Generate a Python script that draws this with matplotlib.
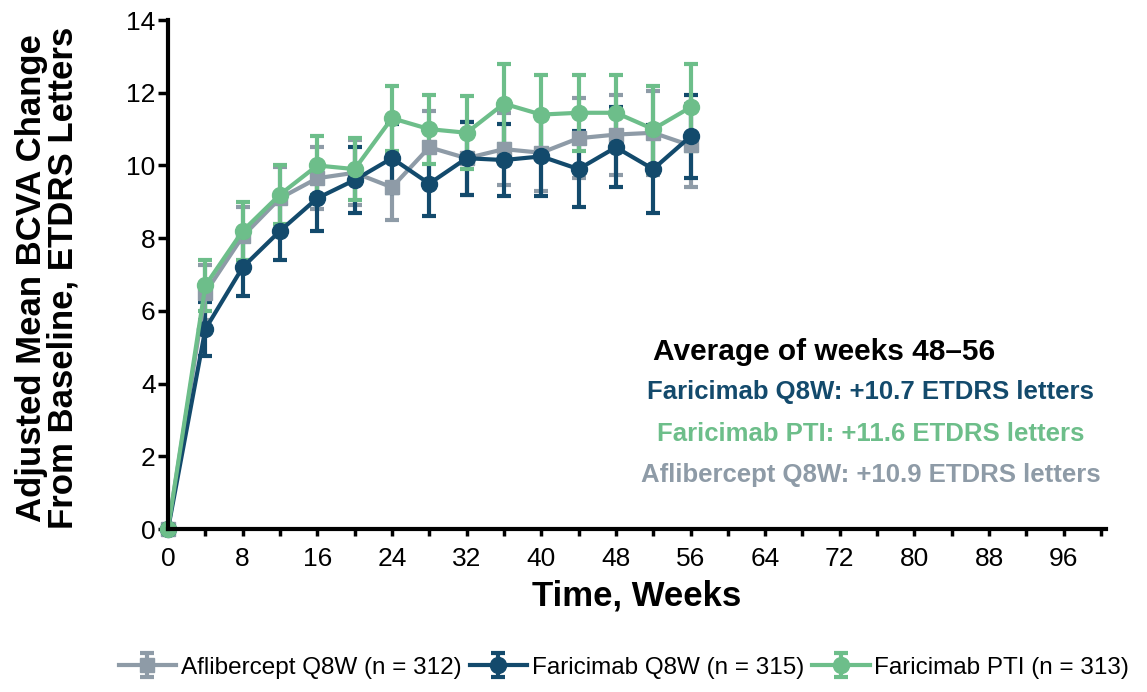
import matplotlib

matplotlib.use("Agg")
import matplotlib.pyplot as plt

# data
weeks = [0, 4, 8, 12, 16, 20, 24, 28, 32, 36, 40, 44, 48, 52, 56]

aflibercept = [0, 6.5, 8.05, 9.1, 9.65, 9.8, 9.4, 10.5, 10.2, 10.45, 10.35, 10.75, 10.85, 10.9, 10.55]
aflibercept_err = [0, 0.75, 0.8, 0.85, 0.85, 0.9, 0.9, 1.0, 1.0, 1.0, 1.05, 1.1, 1.1, 1.15, 1.15]

faricimab_q8w = [0, 5.5, 7.2, 8.2, 9.1, 9.6, 10.2, 9.5, 10.2, 10.15, 10.25, 9.9, 10.5, 9.9, 10.8]
faricimab_q8w_err = [0, 0.75, 0.8, 0.8, 0.9, 0.9, 0.95, 0.9, 1.0, 1.0, 1.1, 1.05, 1.1, 1.2, 1.15]

faricimab_pti = [0, 6.7, 8.2, 9.2, 10.0, 9.9, 11.3, 11.0, 10.9, 11.7, 11.4, 11.45, 11.45, 11.0, 11.6]
faricimab_pti_err = [0, 0.7, 0.8, 0.8, 0.8, 0.85, 0.9, 0.95, 1.0, 1.1, 1.1, 1.05, 1.05, 1.2, 1.2]

labels = ["Aflibercept Q8W (n = 312)", "Faricimab Q8W (n = 315)", "Faricimab PTI (n = 313)"]
summary_title = "Average of weeks 48\u201356"
summary_lines = [
    "Faricimab Q8W: +10.7 ETDRS letters",
    "Faricimab PTI: +11.6 ETDRS letters",
    "Aflibercept Q8W: +10.9 ETDRS letters",
]

GRAY = "#8e9ba7"
NAVY = "#134a6c"
GREEN = "#6dbe8a"

BOLD_FONT = ["Liberation Sans", "DejaVu Sans"]

plt.rcParams["font.family"] = BOLD_FONT

fig = plt.figure(figsize=(11.47, 6.92), dpi=100)
ax = fig.add_axes([0.1465, 0.2355, 0.8175, 0.7355])

series = [
    (aflibercept, aflibercept_err, GRAY, "s", 10.5),
    (faricimab_q8w, faricimab_q8w_err, NAVY, "o", 11.5),
    (faricimab_pti, faricimab_pti_err, GREEN, "o", 11.5),
]

handles = []
for (vals, errs, color, marker, ms), label in zip(series, labels):
    h = ax.errorbar(
        weeks,
        vals,
        yerr=errs,
        color=color,
        marker=marker,
        markersize=ms,
        markeredgecolor=color,
        linewidth=3,
        elinewidth=3,
        capsize=5,
        capthick=3,
        clip_on=False,
        label=label,
    )
    for art in (h.lines[0],) + tuple(h.lines[1]) + tuple(h.lines[2]):
        art.set_clip_on(False)
    handles.append(h)

ax.set_xlim(0, 100.5)
ax.set_ylim(0, 14)

ax.set_xticks(range(0, 101, 4))
ax.set_xticklabels([str(w) if w % 8 == 0 and w <= 96 else "" for w in range(0, 101, 4)])
ax.set_yticks(range(0, 15, 2))

for side in ("top", "right"):
    ax.spines[side].set_visible(False)
for side in ("left", "bottom"):
    ax.spines[side].set_linewidth(3)

ax.tick_params(axis="y", direction="out", length=7, width=2.5, pad=2, labelsize=19)
ax.tick_params(axis="x", direction="out", length=5, width=2.5, pad=8, labelsize=19)

ax.set_xlabel("Time, Weeks", fontsize=25, fontweight="bold", labelpad=6)
fig.text(
    0.041,
    0.598,
    "Adjusted Mean BCVA Change\nFrom Baseline, ETDRS Letters",
    rotation=90,
    ha="center",
    va="center",
    multialignment="center",
    fontsize=25,
    fontweight="bold",
    linespacing=0.95,
)

# summary box
ax.text(70.3, 4.87, summary_title, ha="center", va="center", fontsize=21.5,
        fontweight="bold", color="black")
for txt, y, color in zip(summary_lines, [3.77, 2.61, 1.49], [NAVY, GREEN, GRAY]):
    ax.text(75.3, y, txt, ha="center", va="center", fontsize=18.5,
            fontweight="bold", color=color)

fig.legend(
    handles,
    labels,
    loc="center",
    bbox_to_anchor=(0.544, 0.035),
    ncol=3,
    frameon=False,
    fontsize=17.5,
    handlelength=2.35,
    handletextpad=0.2,
    columnspacing=0.35,
    borderaxespad=0,
)

fig.savefig("out.png", dpi=100)
